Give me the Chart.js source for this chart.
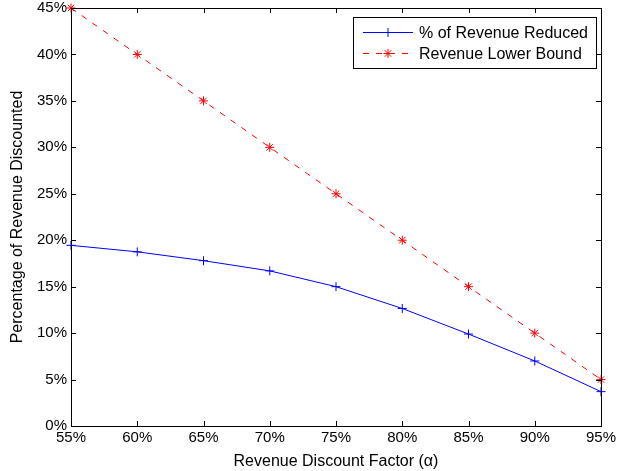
<!DOCTYPE html>
<html>
<head>
<meta charset="utf-8">
<script src="https://cdn.jsdelivr.net/npm/chart.js@4/dist/chart.umd.min.js"></script>
<style>
html,body{margin:0;padding:0;background:#fff;}
canvas{display:block;}
</style>
</head>
<body>
<canvas id="c" width="618" height="471"></canvas>
<script>
// Data
const alphaFactors = [55, 60, 65, 70, 75, 80, 85, 90, 95];
const revenueReduced = [19.45, 18.75, 17.8, 16.7, 15.0, 12.65, 9.9, 7.0, 3.7];
const revenueLowerBound = [45, 40, 35, 30, 25, 20, 15, 10, 5];
const seriesLabels = ['% of Revenue Reduced', 'Revenue Lower Bound'];
const xTitle = 'Revenue Discount Factor (\u03b1)';
const yTitle = 'Percentage of Revenue Discounted';

const FONT = '"Liberation Sans", Arial, Helvetica, sans-serif';

const toPoints = (xs, ys) => xs.map((x, i) => ({x: x, y: ys[i]}));

const framePlugin = {
  id: 'frame',
  afterDraw(chart) {
    const {ctx, chartArea: a, scales} = chart;
    ctx.save();
    ctx.strokeStyle = '#000';
    ctx.lineWidth = 1;
    const tl = 5;
    ctx.beginPath();
    scales.x.ticks.forEach(t => {
      const px = Math.round(scales.x.getPixelForValue(t.value)) + 0.5;
      ctx.moveTo(px, a.bottom); ctx.lineTo(px, a.bottom - tl);
      ctx.moveTo(px, a.top); ctx.lineTo(px, a.top + tl);
    });
    scales.y.ticks.forEach(t => {
      const py = Math.round(scales.y.getPixelForValue(t.value)) + 0.5;
      ctx.moveTo(a.left, py); ctx.lineTo(a.left + tl, py);
      ctx.moveTo(a.right, py); ctx.lineTo(a.right - tl, py);
    });
    ctx.stroke();
    ctx.strokeRect(Math.round(a.left) + 0.5, Math.round(a.top) + 0.5,
                   Math.round(a.right - a.left), Math.round(a.bottom - a.top));
    ctx.restore();

    // Legend
    const w = 243, h = 51;
    const lx = a.right - 5 - w, ly = a.top + 9;
    ctx.save();
    ctx.fillStyle = '#fff';
    ctx.fillRect(lx, ly, w, h);
    ctx.strokeStyle = '#000';
    ctx.lineWidth = 1;
    ctx.strokeRect(Math.round(lx) + 0.5, Math.round(ly) + 0.5, w, h);
    ctx.font = '16px ' + FONT;
    ctx.textBaseline = 'middle';
    ctx.fillStyle = '#000';
    chart.data.datasets.forEach((ds, i) => {
      const y = Math.round(ly + 15 + i * 21) + 0.5;
      ctx.save();
      ctx.strokeStyle = ds.borderColor;
      ctx.fillStyle = ds.borderColor;
      ctx.lineWidth = 1;
      ctx.setLineDash(ds.borderDash || []);
      ctx.beginPath();
      ctx.moveTo(lx + 10, y);
      ctx.lineTo(lx + 60, y);
      ctx.stroke();
      ctx.setLineDash([]);
      Chart.helpers.drawPoint(ctx, {
        pointStyle: ds.pointStyle, radius: ds.pointRadius,
        rotation: 0, borderWidth: 1
      }, lx + 35, y);
      ctx.restore();
      ctx.fillStyle = '#000';
      ctx.fillText(ds.label, lx + 66, y + 1);
    });
    ctx.restore();
  }
};

new Chart(document.getElementById('c'), {
  type: 'line',
  data: {
    datasets: [
      {
        label: seriesLabels[0],
        data: toPoints(alphaFactors, revenueReduced),
        borderColor: '#0000ff',
        backgroundColor: '#0000ff',
        borderWidth: 1,
        pointStyle: 'cross',
        pointRadius: 4.5,
        pointBorderWidth: 1,
        pointBorderColor: '#0000ff',
        pointBackgroundColor: '#0000ff',
        pointHoverRadius: 4.5,
        tension: 0,
        fill: false,
        clip: false
      },
      {
        label: seriesLabels[1],
        data: toPoints(alphaFactors, revenueLowerBound),
        borderColor: '#ff0000',
        backgroundColor: '#ff0000',
        borderWidth: 1,
        borderDash: [6, 7],
        pointStyle: 'star',
        pointRadius: 4.5,
        pointBorderWidth: 1,
        pointBorderColor: '#ff0000',
        pointBackgroundColor: '#ff0000',
        pointHoverRadius: 4.5,
        tension: 0,
        fill: false,
        clip: false
      }
    ]
  },
  options: {
    responsive: false,
    animation: false,
    events: [],
    layout: {padding: {left: 0, right: 17, top: 8, bottom: 0}},
    plugins: {
      legend: {display: false},
      tooltip: {enabled: false}
    },
    scales: {
      x: {
        type: 'linear',
        min: 55, max: 95,
        ticks: {
          stepSize: 5,
          callback: v => v + '%',
          color: '#000',
          font: {family: FONT, size: 15},
          padding: 3,
          maxRotation: 0,
          autoSkip: false
        },
        grid: {display: false, drawTicks: false},
        border: {display: false},
        title: {
          display: true, text: xTitle, color: '#000',
          font: {family: FONT, size: 16},
          padding: {top: 0, bottom: 0}
        },
        afterFit: s => { s.height = 45; s.paddingLeft = 0; s.paddingRight = 0; }
      },
      y: {
        type: 'linear',
        min: 0, max: 45,
        ticks: {
          stepSize: 5,
          callback: v => v + '%',
          color: '#000',
          font: {family: FONT, size: 15},
          padding: 4
        },
        grid: {display: false, drawTicks: false},
        border: {display: false},
        title: {
          display: true, text: yTitle, color: '#000',
          font: {family: FONT, size: 16},
          padding: {top: 8, bottom: 0}
        },
        afterFit: s => { s.width = 71; s.paddingTop = 0; s.paddingBottom = 0; }
      }
    }
  },
  plugins: [framePlugin]
});
</script>
</body>
</html>
